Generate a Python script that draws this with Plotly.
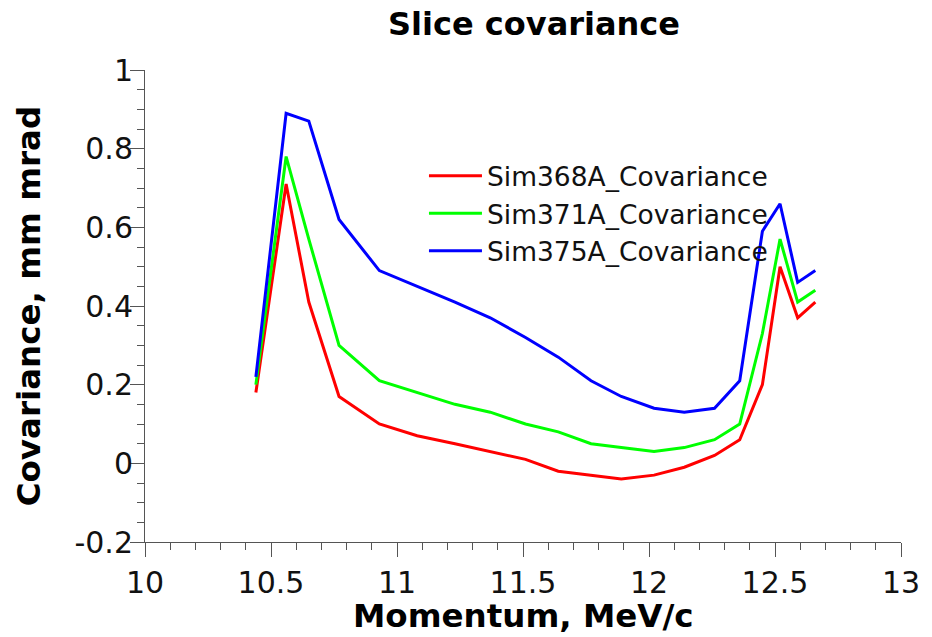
import plotly.graph_objects as go

# Momentum slices (MeV/c) and covariance per simulation (mm mrad)
momentum = [10.44, 10.56, 10.65, 10.77, 10.93, 11.08, 11.23, 11.37, 11.51, 11.64,
            11.77, 11.89, 12.02, 12.14, 12.26, 12.36, 12.45, 12.52, 12.59, 12.66]
sim368a = [0.18, 0.71, 0.41, 0.17, 0.10, 0.07, 0.05, 0.03, 0.01, -0.02,
           -0.03, -0.04, -0.03, -0.01, 0.02, 0.06, 0.20, 0.50, 0.37, 0.41]
sim371a = [0.20, 0.78, 0.57, 0.30, 0.21, 0.18, 0.15, 0.13, 0.10, 0.08,
           0.05, 0.04, 0.03, 0.04, 0.06, 0.10, 0.33, 0.57, 0.41, 0.44]
sim375a = [0.22, 0.89, 0.87, 0.62, 0.49, 0.45, 0.41, 0.37, 0.32, 0.27,
           0.21, 0.17, 0.14, 0.13, 0.14, 0.21, 0.59, 0.66, 0.46, 0.49]

series_names = ["Sim368A_Covariance", "Sim371A_Covariance", "Sim375A_Covariance"]
series_colors = ["#ff0000", "#00ff00", "#0000ff"]

x_tickvals = [10, 10.5, 11, 11.5, 12, 12.5, 13]
x_ticktext = ["10", "10.5", "11", "11.5", "12", "12.5", "13"]
y_tickvals = [-0.2, 0, 0.2, 0.4, 0.6, 0.8, 1]
y_ticktext = ["-0.2", "0", "0.2", "0.4", "0.6", "0.8", "1"]

fig = go.Figure()
for name, color, vals in zip(series_names, series_colors, [sim368a, sim371a, sim375a]):
    fig.add_trace(go.Scatter(x=momentum, y=vals, mode="lines", name=name,
                             line=dict(color=color, width=3)))

axis_color = "#555555"
font_family = "DejaVu Sans"

fig.update_layout(
    width=932, height=637,
    margin=dict(l=145, r=29, t=70, b=95),
    paper_bgcolor="white", plot_bgcolor="white",
    font=dict(family=font_family, color="#111111", size=27),
    title=dict(text="<b>Slice covariance</b>", x=0.573, xanchor="center",
               y=0.962, yanchor="middle", font=dict(size=32, color="black")),
    showlegend=True,
    legend=dict(x=0.369, y=0.826, xanchor="left", yanchor="top",
                bgcolor="rgba(0,0,0,0)", font=dict(size=26.5, color="#111111"),
                tracegroupgap=0, itemwidth=53),
    xaxis=dict(range=[10, 13], tickvals=x_tickvals, ticktext=x_ticktext,
               showgrid=False, zeroline=False, showline=True, linecolor=axis_color,
               linewidth=1, ticks="outside", ticklen=14, tickcolor=axis_color,
               tickfont=dict(size=30),
               minor=dict(dtick=0.1, ticks="outside", ticklen=7, tickcolor=axis_color,
                          showgrid=False)),
    yaxis=dict(range=[-0.2, 1], tickvals=y_tickvals, ticktext=y_ticktext,
               showgrid=False, zeroline=False, showline=True, linecolor=axis_color,
               linewidth=1, ticks="outside", ticklen=14, tickcolor=axis_color,
               tickfont=dict(size=30), ticklabelstandoff=-9,
               minor=dict(dtick=0.05, tick0=0, ticks="outside", ticklen=7,
                          tickcolor=axis_color, showgrid=False)),
    annotations=[
        dict(text="<b>Momentum, MeV/c</b>", xref="paper", yref="paper",
             x=0.5, y=-0.157, xanchor="center", yanchor="middle", showarrow=False,
             font=dict(size=32.5, color="black")),
        dict(text="<b>Covariance, mm mrad</b>", xref="paper", yref="paper",
             x=-0.153, y=0.5, xanchor="center", yanchor="middle", showarrow=False,
             textangle=-90, font=dict(size=32.5, color="black")),
    ],
)

fig.write_html("out.html")
